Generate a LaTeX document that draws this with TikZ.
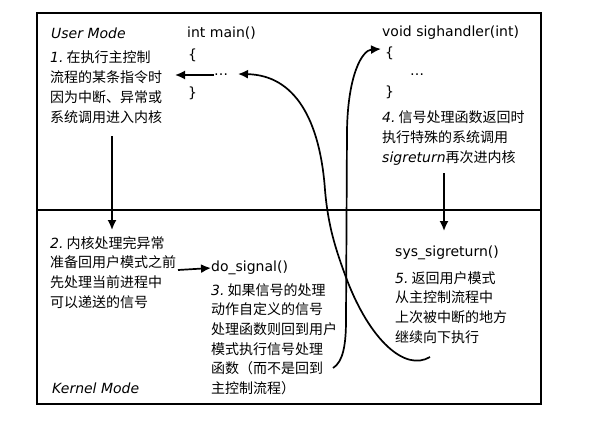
\documentclass[tikz,border=0pt]{standalone}
\usepackage{fontspec}
\setmainfont{DejaVu Sans}
\newfontfamily\cjk{Noto Sans CJK SC}
\usetikzlibrary{arrows.meta}

\newcommand\stepno[1]{{\rmfamily\itshape #1.}\ }

\tikzset{
  every node/.style={inner sep=0pt, font=\fontsize{14}{19.7}\selectfont},
  mode/.style={anchor=west, font=\fontsize{14}{19.7}\selectfont\itshape},
  code/.style={anchor=west},
  note/.style={anchor=north west, align=left, font=\fontsize{14}{19.7}\selectfont\cjk},
  flow/.style={line width=1.7pt, -{Latex[length=10pt,width=9pt]}},
}

\begin{document}
\begin{tikzpicture}[x=1pt,y=-1pt]
\useasboundingbox (0,0) rectangle (599,431);
% frame and the line between the two modes
\coordinate (NW) at (37,13);
\coordinate (SE) at (541,404);
\coordinate (ML) at (37,210);
\coordinate (MR) at (541,210);
\draw[line width=1.8pt] (NW) rectangle (SE);
\draw[line width=1.8pt] (ML) -- (MR);

% user mode
\node[mode] (user) at (51,33) {User Mode};
\node[code] (mainhead) at (187,33) {int main()};
\node[code] (mainopen) at (188,55) {\{};
\node[code] (maindots) at (214,75) {…};
\node[code] (mainclose) at (188,93) {\}};
\node[note] (note1) at (50,51) {\stepno{1}在执行主控制\\流程的某条指令时\\因为中断、异常或\\系统调用进入内核};

\node[code] (handhead) at (382,33) {void sighandler(int)};
\node[code] (handopen) at (385,53) {\{};
\node[code] (handdots) at (410,75) {…};
\node[code] (handclose) at (385,92) {\}};
\node[note] (note4) at (382,111) {\stepno{4}信号处理函数返回时\\执行特殊的系统调用\\{\rmfamily\itshape sigreturn}再次进内核};

% kernel mode
\node[mode] (kernel) at (52,388) {Kernel Mode};
\node[note] (note2) at (50,236) {\stepno{2}内核处理完异常\\准备回用户模式之前\\先处理当前进程中\\可以递送的信号};
\node[code] (dosig) at (211,268) {do\_signal()};
\node[note] (note3) at (211,283) {\stepno{3}如果信号的处理\\动作自定义的信号\\处理函数则回到用户\\模式执行信号处理\\函数（而不是回到\\主控制流程）};
\node[code] (sysret) at (395,253) {sys\_sigreturn()};
\node[note] (note5) at (395,271) {\stepno{5}返回用户模式\\从主控制流程中\\上次被中断的地方\\继续向下执行};

% straight arrows
\coordinate (t1) at (175,75);
\coordinate (s2) at (112,136);
\coordinate (t2) at (112,230);
\coordinate (s3) at (178,270);
\coordinate (s5) at (444,173);
\coordinate (t5) at (444,231);
\draw[flow] (maindots.west) -- (t1);
\draw[flow] (s2) -- (t2);
\draw[flow] (s3) -- (dosig.west);
\draw[flow] (s5) -- (t5);

% do_signal up to the handler
\coordinate (a0) at (333,368);
\coordinate (a1) at (346,320);
\coordinate (a2) at (347,130);
\coordinate (a3) at (381,49);
\draw[flow] (a0) .. controls (343,362) and (346,345) .. (a1) -- (a2)
  .. controls (348,75) and (362,50) .. (a3);

% sys_sigreturn back to main
\coordinate (b0) at (430,357);
\coordinate (b1) at (347,280);
\coordinate (b2) at (325,190);
\coordinate (b3) at (238,74);
\draw[flow] (b0) .. controls (405,372) and (370,340) .. (b1)
  .. controls (335,248) and (328,225) .. (b2)
  .. controls (320,120) and (295,75) .. (b3);
\end{tikzpicture}
\end{document}
